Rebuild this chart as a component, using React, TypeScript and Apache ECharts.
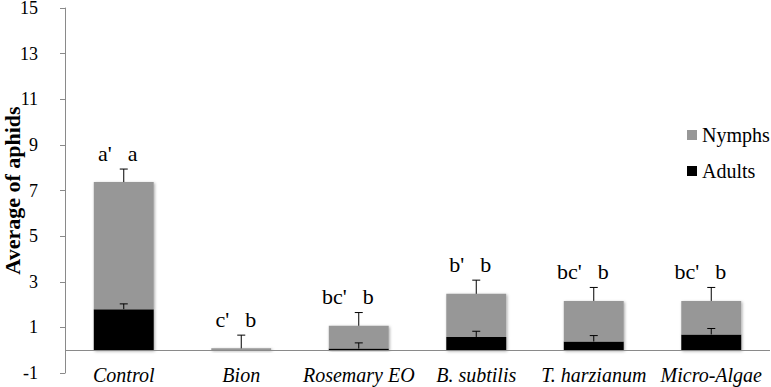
import React, { useEffect, useRef } from "react";
import * as echarts from "echarts";

// Treatments on the category axis
const categories = ["Control", "Bion", "Rosemary EO", "B. subtilis", "T. harzianum", "Micro-Algae"];
// Mean counts per plant (stacked: adults at the bottom, nymphs on top)
const adults = [1.8, 0, 0.07, 0.58, 0.38, 0.69];
const nymphs = [5.57, 0.08, 1.0, 1.89, 1.78, 1.47];
// Standard errors (drawn upward from the top of each segment)
const adultsError = [0.23, 0, 0.25, 0.25, 0.26, 0.26];
const totalError = [0.57, 0.58, 0.58, 0.6, 0.59, 0.59];
// Significance letters (primed = adults, plain = nymphs)
const adultsLetters = ["a'", "c'", "bc'", "b'", "bc'", "bc'"];
const nymphsLetters = ["a", "b", "b", "b", "b", "b"];
// Value axis range
const yMin = -1;
const yMax = 15;
const yStep = 2;

const SERIF = "Times New Roman, Liberation Serif, serif";
const GREY_BAR = "#979797";
const AXIS_GREY = "#8a8a8a";

export default function App() {
  const ref = useRef<HTMLDivElement>(null);

  useEffect(() => {
    document.body.style.margin = "0";
    if (!ref.current) return;
    const chart = echarts.init(ref.current, null, { renderer: "svg" });

    const totals = adults.map((a, i) => a + nymphs[i]);

    const errorItem = (params: any, api: any) => {
      const i = api.value(0);
      const base = api.coord([i, api.value(1)]);
      const top = api.coord([i, api.value(2)]);
      const half = 4;
      const style = { stroke: "#000", lineWidth: 1 };
      return {
        type: "group",
        children: [
          { type: "line", shape: { x1: base[0], y1: base[1], x2: top[0], y2: top[1] }, style },
          { type: "line", shape: { x1: top[0] - half, y1: top[1], x2: top[0] + half, y2: top[1] }, style },
        ],
      };
    };

    const barShadow = {
      shadowBlur: 3,
      shadowColor: "rgba(0,0,0,0.35)",
      shadowOffsetX: 1,
      shadowOffsetY: 1,
    };

    chart.setOption({
      animation: false,
      textStyle: { fontFamily: SERIF },
      grid: { left: 65, right: 1, top: 8, bottom: 14, containLabel: false, outerBoundsMode: "none" },
      legend: {
        orient: "vertical",
        left: 682,
        top: 120,
        itemWidth: 10,
        itemHeight: 10,
        itemGap: 16,
        icon: "rect",
        data: ["Nymphs", "Adults"],
        textStyle: { fontFamily: SERIF, fontSize: 20, color: "#000" },
      },
      xAxis: {
        type: "category",
        data: categories,
        axisLine: { show: false, onZero: false },
        axisTick: { show: false },
        axisLabel: {
          margin: -8,
          fontFamily: SERIF,
          fontStyle: "italic",
          fontSize: 20,
          color: "#000",
          interval: 0,
        },
      },
      yAxis: {
        type: "value",
        min: yMin,
        max: yMax,
        interval: yStep,
        name: "Average of aphids",
        nameLocation: "middle",
        nameGap: 42,
        nameMoveOverlap: false,
        nameTextStyle: { fontFamily: SERIF, fontSize: 22, fontWeight: "bold", color: "#000" },
        axisLine: { show: true, lineStyle: { color: AXIS_GREY, width: 1 } },
        axisTick: { show: true, length: 5, lineStyle: { color: AXIS_GREY } },
        axisLabel: { margin: 27, fontFamily: SERIF, fontSize: 18, color: "#000" },
        splitLine: { show: false },
      },
      series: [
        {
          name: "Adults",
          type: "bar",
          stack: "aphids",
          barWidth: "51%",
          data: adults,
          itemStyle: { color: "#000", ...barShadow },
          markLine: {
            silent: true,
            symbol: "none",
            label: { show: false },
            lineStyle: { color: AXIS_GREY, type: "solid", width: 1 },
            data: [{ yAxis: 0 }],
          },
        },
        {
          name: "Nymphs",
          type: "bar",
          stack: "aphids",
          barWidth: "51%",
          data: nymphs,
          itemStyle: { color: GREY_BAR, ...barShadow },
        },
        {
          name: "Nymphs error",
          type: "custom",
          renderItem: errorItem,
          encode: { x: 0, y: [1, 2] },
          data: totals.map((t, i) => [i, t, t + totalError[i]]),
          z: 5,
        },
        {
          name: "Adults error",
          type: "custom",
          renderItem: errorItem,
          encode: { x: 0, y: [1, 2] },
          data: adults
            .map((a, i) => [i, a, a + adultsError[i]])
            .filter((d) => d[2] > d[1]),
          z: 5,
        },
        {
          name: "Letters",
          type: "custom",
          encode: { x: 0, y: 1 },
          data: totals.map((t, i) => [i, t + totalError[i]]),
          renderItem: (params: any, api: any) => {
            const i = api.value(0);
            const p = api.coord([i, api.value(1)]);
            const font = { fontFamily: SERIF, fontSize: 22, fill: "#000" };
            return {
              type: "group",
              children: [
                {
                  type: "text",
                  x: p[0] - 12,
                  y: p[1] - 5,
                  style: { text: adultsLetters[i], align: "right", verticalAlign: "bottom", ...font },
                },
                {
                  type: "text",
                  x: p[0] + 4,
                  y: p[1] - 5,
                  style: { text: nymphsLetters[i], align: "left", verticalAlign: "bottom", ...font },
                },
              ],
            };
          },
          z: 6,
        },
      ],
    });

    return () => chart.dispose();
  }, []);

  return (
    <div
      ref={ref}
      style={{ position: "absolute", left: 0, top: 0, width: 771, height: 387, background: "#fff" }}
    />
  );
}
